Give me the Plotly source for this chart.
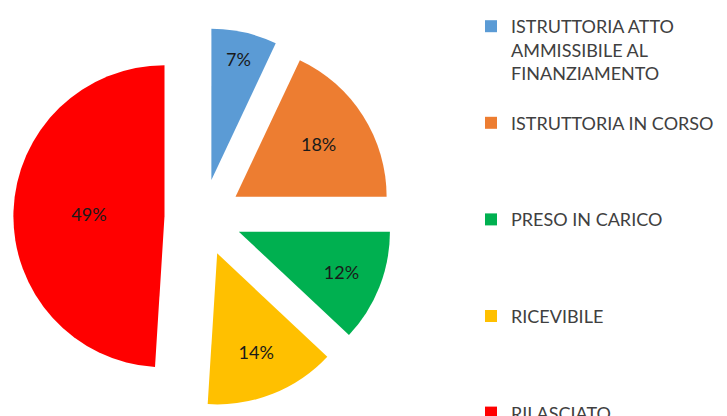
import plotly.graph_objects as go

categories = [
    "ISTRUTTORIA ATTO AMMISSIBILE AL FINANZIAMENTO",
    "ISTRUTTORIA IN CORSO",
    "PRESO IN CARICO",
    "RICEVIBILE",
    "RILASCIATO",
]
legend_lines = [
    ["ISTRUTTORIA ATTO", "AMMISSIBILE AL", "FINANZIAMENTO"],
    ["ISTRUTTORIA IN CORSO"],
    ["PRESO IN CARICO"],
    ["RICEVIBILE"],
    ["RILASCIATO"],
]
values = [7, 18, 12, 14, 49]
colors = ["#5B9BD5", "#ED7D31", "#00B050", "#FFC000", "#FF0000"]

# legend labels padded with blank lines to reproduce the wide item spacing
labels = []
for i, lines in enumerate(legend_lines):
    pad = 0 if i == len(legend_lines) - 1 else 4 - len(lines)
    labels.append("<br>".join(lines + ["\u00a0"] * pad))

W, H = 727, 416
fig = go.Figure(
    go.Pie(
        labels=labels,
        values=values,
        marker=dict(colors=colors, line=dict(width=0)),
        sort=False,
        direction="clockwise",
        rotation=0,
        pull=[0.255] * len(values),
        textinfo="percent",
        texttemplate="%{percent:.0%}",
        textposition="inside",
        insidetextorientation="horizontal",
        textfont=dict(family="Lato", size=18, color="#1a1a1a"),
        domain=dict(x=[4 / W, 386 / W], y=[17 / H, 399 / H]),
        hovertext=categories,
        hoverinfo="text+percent",
    )
)
fig.update_layout(
    width=W,
    height=H,
    margin=dict(l=0, r=0, t=0, b=0),
    paper_bgcolor="white",
    plot_bgcolor="white",
    font=dict(family="Lato", size=18, color="#404040"),
    legend=dict(
        x=463 / W,
        xanchor="left",
        y=1 + 3 / H,
        yanchor="top",
        valign="top",
        maxheight=800,
        bgcolor="rgba(0,0,0,0)",
        font=dict(family="Lato", size=18, color="#404040"),
    ),
    showlegend=True,
)
fig.write_html("out.html")
